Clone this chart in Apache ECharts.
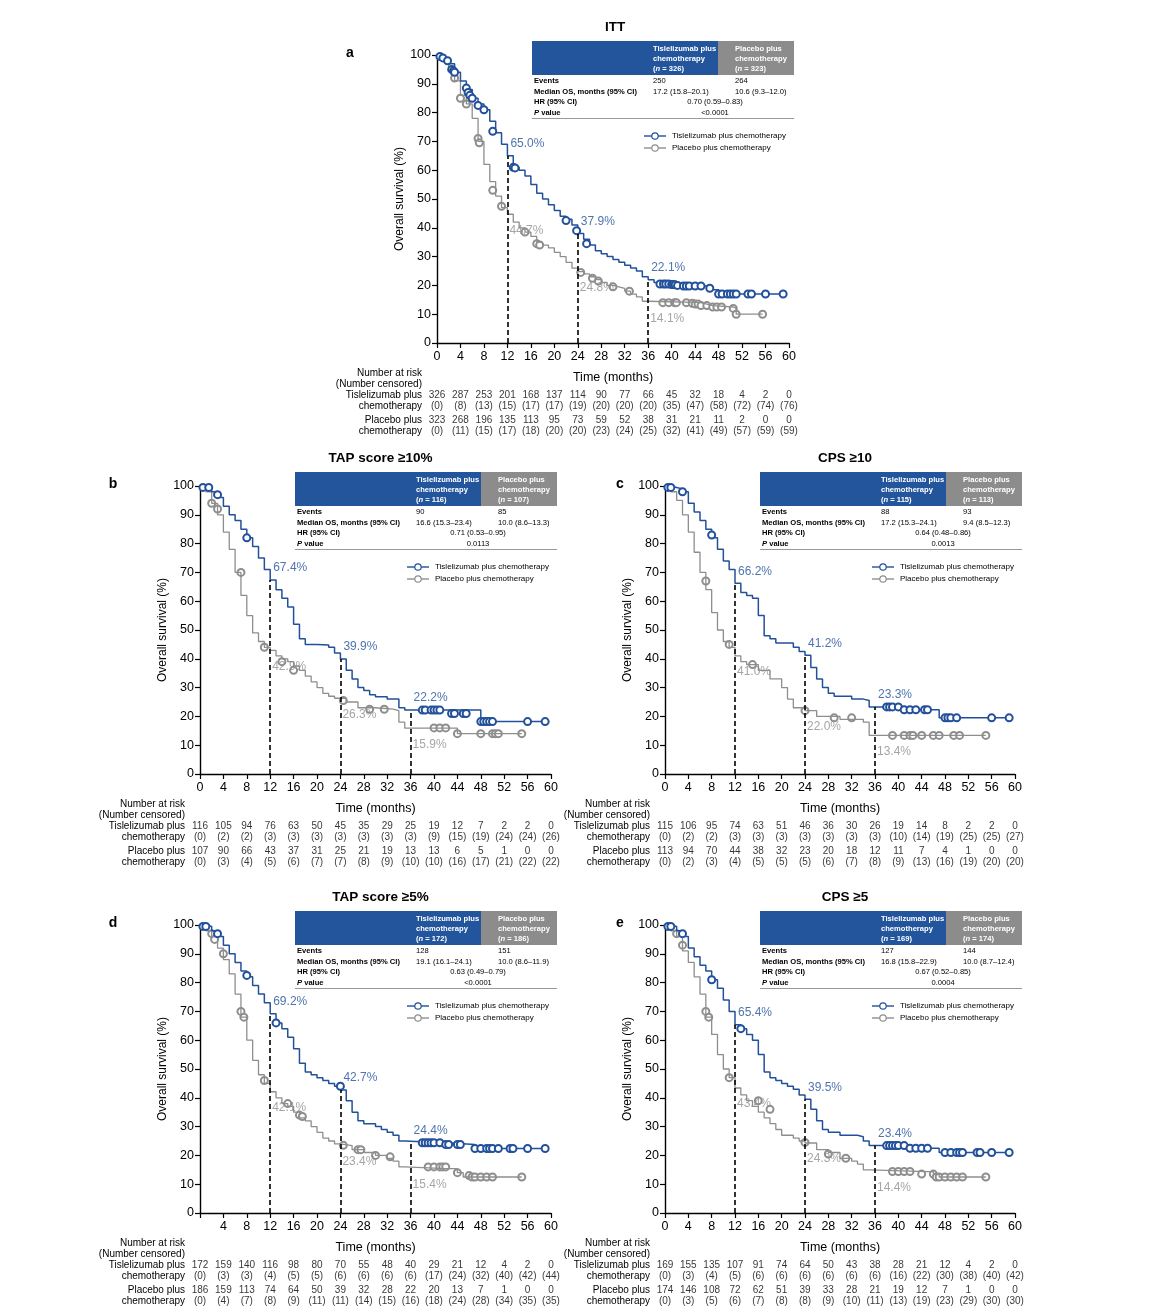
<!DOCTYPE html>
<html>
<head>
<meta charset="utf-8">
<script src="https://cdn.jsdelivr.net/npm/echarts@6/dist/echarts.min.js"></script>
<style>html,body{margin:0;padding:0;background:#fff}#main{width:1156px;height:1316px}</style>
</head>
<body>
<div id="main"></div>
<script>
var BLUE = '#22509a', GREY = '#8e8e8e', HEAD_BLUE = '#23559d', HEAD_GREY = '#8c8c8c';
var FONT = 'Liberation Sans, Arial, sans-serif';

var timeTicks = [0, 4, 8, 12, 16, 20, 24, 28, 32, 36, 40, 44, 48, 52, 56, 60];
var landmarkTimes = [12, 24, 36];

// ---- a: ITT ----
var ittBlue = [[0,100],[1,99],[2,97],[3,94],[4,91],[5,88],[6,85],[7,83],[8,81],[9,77],[10,73],[11,69],[12,65],[13,61],[14,60],[15,58],[16,55],[17,52],[18,50],[19,48],[20,46],[21,44],[22,43],[23,41],[24,38],[25,36],[26,34],[27,32],[28,31],[29,30],[30,29],[31,28],[32,27],[33,26],[34,25],[35,23],[36,22],[37,21],[38,20.5],[40,20.2],[42,19.8],[46,19.5],[47,18.5],[48,17],[59,17]];
var ittBlueCens = [[0.5,99.5],[1,99],[1.8,98],[2.5,95],[2.8,94.5],[3,94],[5,88.5],[5.3,87],[5.6,86],[6,85],[7,82.5],[8,81],[9.5,73.5],[13,61],[13.3,60.8],[22,42.5],[23.8,39],[25.5,34.5],[38,20.5],[38.6,20.5],[39,20.5],[39.5,20.5],[40,20.3],[40.3,20.3],[40.6,20.2],[41,20],[42,19.8],[42.5,19.8],[43,19.8],[44,19.8],[45,19.8],[46.5,19],[48,17],[48.6,17],[49.5,17],[50,17],[50.5,17],[51,17],[53,17],[53.6,17],[56,17],[59,17]];
var ittGrey = [[0,100],[1,98],[2,95],[3,91],[4,86],[5,83],[6,78],[7,70],[8,62],[9,56],[10,51],[11,47],[12,44.7],[13,42],[14,40],[15,38.5],[16,37],[17,35],[18,34],[19,33],[20,31.5],[21,30],[22,28],[23,26],[24,24.8],[25,24],[26,23],[27,22],[28,21],[29,20],[30,19.5],[31,19],[32,18],[33,17],[34,16],[35,14.5],[36,14.1],[44,14],[45,13.5],[46,13],[47,12.5],[50.5,12],[51,10],[55.5,10]];
var ittGreyCens = [[3,92],[4,85],[5,83],[7,71],[7.2,69.5],[9.5,53],[11,47.5],[15,38.5],[17,34.5],[17.5,34],[24.5,24.5],[26.5,22.5],[27.5,21.5],[30,19.5],[32.8,18],[38.5,14],[39.5,14],[40.5,14],[40.8,14],[42.5,14],[43.5,13.8],[44,13.5],[44.5,13.5],[45,13],[46,13],[47,12.5],[47.7,12.5],[48.5,12.5],[50.5,12],[51,10],[55.5,10]];
var ittBlueLm = [65.0, 37.9, 22.1];
var ittGreyLm = [44.7, 24.8, 14.1];
var ittRiskBlue = [326,287,253,201,168,137,114,90,77,66,45,32,18,4,2,0];
var ittCensBlue = [0,8,13,15,17,17,19,20,20,20,35,47,58,72,74,76];
var ittRiskGrey = [323,268,196,135,113,95,73,59,52,38,31,21,11,2,0,0];
var ittCensGrey = [0,11,15,17,18,20,20,23,24,25,32,41,49,57,59,59];
var ittTable = ['326', '323', '250', '264', '17.2 (15.8–20.1)', '10.6 (9.3–12.0)', '0.70 (0.59–0.83)', '<0.0001'];

// ---- b: TAP score >=10% ----
var tap10Blue = [[0,100],[1,99.5],[2,98],[3,96],[4,93],[5,90],[6,88],[7,85],[8,82],[9,79],[10,75],[11,71],[12,67.4],[13,64],[14,61],[15,58],[16,52],[17,47],[18,45],[20,44.8],[22,44],[23,42],[24,39.9],[25,36],[26,33],[27,30],[28,29],[29,27.5],[30,26.8],[32,26],[34,23],[35,22.2],[47,22.2],[48,18.2],[59,18.2]];
var tap10BlueCens = [[0.5,99.5],[1.5,99.5],[3,97],[8,82],[38,22.2],[38.5,22.2],[39.5,22.2],[40,22.2],[40.5,22.2],[41,22.2],[43,21],[43.5,21],[45,21],[45.5,21],[48,18.2],[48.5,18.2],[49,18.2],[49.5,18.2],[50,18.2],[56,18.2],[59,18.2]];
var tap10Grey = [[0,100],[1,98],[2,94],[3,90],[4,84],[5,78],[6,70],[7,62],[8,55],[9,49],[10,46],[11,44],[12,42.9],[13,41],[14,40],[15,39],[16,37.5],[17,36],[18,34],[19,32],[20,30],[21,28],[22,27],[23,26.3],[25,25],[27,23],[30,22.5],[33,22],[34,18],[35,15.9],[43,15.9],[44,14],[55,14]];
var tap10GreyCens = [[2,94],[3,92],[7,70],[11,44],[14,39],[16,36],[24.5,25.5],[29,22.5],[31.5,22.5],[40,16],[41,16],[42,16],[44,14],[48,14],[50,14],[50.5,14],[51,14],[55,14]];
var tap10BlueLm = [67.4, 39.9, 22.2];
var tap10GreyLm = [42.9, 26.3, 15.9];
var tap10RiskBlue = [116,105,94,76,63,50,45,35,29,25,19,12,7,2,2,0];
var tap10CensBlue = [0,2,2,3,3,3,3,3,3,3,9,15,19,24,24,26];
var tap10RiskGrey = [107,90,66,43,37,31,25,21,19,13,13,6,5,1,0,0];
var tap10CensGrey = [0,3,4,5,6,7,7,8,9,10,10,16,17,21,22,22];
var tap10Table = ['116', '107', '90', '85', '16.6 (15.3–23.4)', '10.0 (8.6–13.3)', '0.71 (0.53–0.95)', '0.0113'];

// ---- c: CPS >=10 ----
var cps10Blue = [[0,100],[1,99.5],[2,99],[3,98],[4,94],[5,91],[6,88],[7,85],[8,82],[9,78],[10,74],[11,71],[12,66.2],[13,63],[14,62],[15,61],[16,55],[17,48],[18,47],[19,45.5],[21,45.5],[22,44],[23,42.5],[24,41.2],[25,37],[26,33],[27,30],[28,28],[29,27],[31,27],[32,26],[34,25.5],[35,23.3],[41,22.3],[47,19.5],[59,19.5]];
var cps10BlueCens = [[0.5,99.5],[1,99.5],[3,98],[8,83],[38,23.3],[38.5,23.3],[39,23.3],[40,23.3],[41,22.3],[42,22.3],[43,22.3],[44.5,22.3],[45,22.3],[48,19.5],[48.5,19.5],[49,19.5],[50,19.5],[56,19.5],[59,19.5]];
var cps10Grey = [[0,100],[1,98],[2,95],[3,90],[4,84],[5,77],[6,70],[7,64],[8,56],[9,50],[10,46],[11,44],[12,41],[13,39],[14,38],[16,36],[18,33],[20,30],[21,26],[22,23],[24,22],[26,20],[30,19],[34,18],[35,13.4],[55,13.4]];
var cps10GreyCens = [[7,67],[11,45],[15,38],[24,22],[29,19.5],[32,19.5],[39,13.4],[41,13.4],[42,13.4],[42.5,13.4],[44,13.4],[46,13.4],[47,13.4],[49.5,13.4],[50.5,13.4],[55,13.4]];
var cps10BlueLm = [66.2, 41.2, 23.3];
var cps10GreyLm = [41.0, 22.0, 13.4];
var cps10RiskBlue = [115,106,95,74,63,51,46,36,30,26,19,14,8,2,2,0];
var cps10CensBlue = [0,2,2,3,3,3,3,3,3,3,10,14,19,25,25,27];
var cps10RiskGrey = [113,94,70,44,38,32,23,20,18,12,11,7,4,1,0,0];
var cps10CensGrey = [0,2,3,4,5,5,5,6,7,8,9,13,16,19,20,20];
var cps10Table = ['115', '113', '88', '93', '17.2 (15.3–24.1)', '9.4 (8.5–12.3)', '0.64 (0.48–0.86)', '0.0013'];

// ---- d: TAP score >=5% ----
var tap5Blue = [[0,100],[1,99.5],[2,98],[3,96],[4,93],[5,90],[6,87],[7,84],[8,82],[9,79],[10,76],[11,73],[12,69.2],[13,66],[14,64],[15,61],[16,57],[17,52],[18,49],[19,48],[20,47],[21,46],[22,45],[23,44],[24,42.7],[25,39],[26,35],[27,32],[28,31],[30,30],[31,29],[32,28],[33,27],[34,25],[35,24.4],[42,23.8],[47,22.4],[59,22.4]];
var tap5BlueCens = [[0.5,99.5],[1,99.5],[3,97],[8,82.5],[13,66],[24,44],[38,24.4],[38.5,24.4],[39,24.4],[39.5,24.4],[40,24.4],[41,24.4],[42,23.8],[42.5,23.8],[44,23.8],[44.5,23.8],[47,22.4],[48,22.4],[49,22.4],[49.5,22.4],[50,22.4],[51,22.4],[53,22.4],[53.5,22.4],[56,22.4],[59,22.4]];
var tap5Grey = [[0,100],[1,98],[2,96],[3,92],[4,88],[5,83],[6,76],[7,68],[8,60],[9,53],[10,48],[11,45],[12,42.1],[13,40],[14,38],[15,37],[16,35],[17,33],[18,32],[19,30],[20,28],[21,26],[22,25],[23,24],[24,23.4],[26,22],[28,21],[30,20],[32,19],[33,18],[34,16],[35,15.4],[42,15.4],[44,14],[45,12.5],[55,12.5]];
var tap5GreyCens = [[2,97],[2.5,95],[4,90],[7,70],[7.5,68],[11,46],[15,38],[17,34],[17.5,33.5],[24.5,23.5],[27,22],[27.5,22],[30,20],[32.5,19.5],[39,16],[40,16],[41,16],[41.5,16],[42,16],[44,14],[46,13],[46.5,12.5],[47,12.5],[48,12.5],[49,12.5],[50,12.5],[55,12.5]];
var tap5BlueLm = [69.2, 42.7, 24.4];
var tap5GreyLm = [42.1, 23.4, 15.4];
var tap5RiskBlue = [172,159,140,116,98,80,70,55,48,40,29,21,12,4,2,0];
var tap5CensBlue = [0,3,3,4,5,5,6,6,6,6,17,24,32,40,42,44];
var tap5RiskGrey = [186,159,113,74,64,50,39,32,28,22,20,13,7,1,0,0];
var tap5CensGrey = [0,4,7,8,9,11,11,14,15,16,18,24,28,34,35,35];
var tap5Table = ['172', '186', '128', '151', '19.1 (16.1–24.1)', '10.0 (8.6–11.9)', '0.63 (0.49–0.79)', '<0.0001'];

// ---- e: CPS >=5 ----
var cps5Blue = [[0,100],[1,99.5],[2,98],[3,96],[4,92],[5,89],[6,86],[7,84],[8,81],[9,78],[10,74],[11,70],[12,65.4],[13,64],[14,62],[15,60],[16,55],[17,49],[18,47],[19,46],[20,45],[21,44],[22,43],[23,41],[24,39.5],[25,36],[26,32],[27,29],[28,28],[30,27],[33,26.5],[34,25],[35,23.4],[42,22.5],[47,21],[59,21]];
var cps5BlueCens = [[0.5,99.5],[1,99.5],[3,97],[8,81],[13,64],[38,23.4],[38.5,23.4],[39,23.4],[39.5,23.4],[40,23.4],[41,23.4],[42,22.5],[43,22.5],[44,22.5],[45,22.5],[48,21],[49,21],[50,21],[50.5,21],[51,21],[53.5,21],[54,21],[56,21],[59,21]];
var cps5Grey = [[0,100],[1,98],[2,96],[3,91],[4,87],[5,82],[6,76],[7,68],[8,62],[9,55],[10,50],[11,47],[12,43.4],[13,41],[14,39],[15,37],[16,35],[17,33],[18,31],[19,29],[20,27],[22,26],[23,25],[24,24.3],[26,22],[28,21],[30,19],[32,18],[33,17],[34,15],[35,14.4],[45,14.4],[46,13.5],[47,12.5],[55,12.5]];
var cps5GreyCens = [[2,97],[3,93],[7,70],[7.5,68],[11,47],[16,39],[18,36],[24,24.5],[28,20.5],[31,19],[39,14.4],[40,14.4],[41,14.4],[42,14.4],[44,13.5],[46,13.5],[46.5,12.5],[47,12.5],[48,12.5],[49,12.5],[50,12.5],[51,12.5],[55,12.5]];
var cps5BlueLm = [65.4, 39.5, 23.4];
var cps5GreyLm = [43.4, 24.3, 14.4];
var cps5RiskBlue = [169,155,135,107,91,74,64,50,43,38,28,21,12,4,2,0];
var cps5CensBlue = [0,3,4,5,6,6,6,6,6,6,16,22,30,38,40,42];
var cps5RiskGrey = [174,146,108,72,62,51,39,33,28,21,19,12,7,1,0,0];
var cps5CensGrey = [0,3,5,6,7,8,8,9,10,11,13,19,23,29,30,30];
var cps5Table = ['169', '174', '127', '144', '16.8 (15.8–22.9)', '10.0 (8.7–12.4)', '0.67 (0.52–0.85)', '0.0004'];

var panels = [
  {letter:'a', title:'ITT', left:437, top:55, w:352, h:288, blue:ittBlue, blueCens:ittBlueCens, grey:ittGrey, greyCens:ittGreyCens, blueLm:ittBlueLm, greyLm:ittGreyLm, rb:ittRiskBlue, cb:ittCensBlue, rg:ittRiskGrey, cg:ittCensGrey, table:ittTable, zero:true},
  {letter:'b', title:'TAP score ≥10%', left:200, top:486, w:351, h:288, blue:tap10Blue, blueCens:tap10BlueCens, grey:tap10Grey, greyCens:tap10GreyCens, blueLm:tap10BlueLm, greyLm:tap10GreyLm, rb:tap10RiskBlue, cb:tap10CensBlue, rg:tap10RiskGrey, cg:tap10CensGrey, table:tap10Table, zero:true},
  {letter:'c', title:'CPS ≥10', left:665, top:486, w:350, h:288, blue:cps10Blue, blueCens:cps10BlueCens, grey:cps10Grey, greyCens:cps10GreyCens, blueLm:cps10BlueLm, greyLm:cps10GreyLm, rb:cps10RiskBlue, cb:cps10CensBlue, rg:cps10RiskGrey, cg:cps10CensGrey, table:cps10Table, zero:true},
  {letter:'d', title:'TAP score ≥5%', left:200, top:925, w:351, h:288, blue:tap5Blue, blueCens:tap5BlueCens, grey:tap5Grey, greyCens:tap5GreyCens, blueLm:tap5BlueLm, greyLm:tap5GreyLm, rb:tap5RiskBlue, cb:tap5CensBlue, rg:tap5RiskGrey, cg:tap5CensGrey, table:tap5Table, zero:false},
  {letter:'e', title:'CPS ≥5', left:665, top:925, w:350, h:288, blue:cps5Blue, blueCens:cps5BlueCens, grey:cps5Grey, greyCens:cps5GreyCens, blueLm:cps5BlueLm, greyLm:cps5GreyLm, rb:cps5RiskBlue, cb:cps5CensBlue, rg:cps5RiskGrey, cg:cps5CensGrey, table:cps5Table, zero:true}
];

var grid = [], xAxis = [], yAxis = [], series = [], graphic = [];
var axisLine = {show:true, lineStyle:{color:'#000', width:1.4}};
var axisTick = {show:true, length:5, lineStyle:{color:'#000', width:1.2}};

panels.forEach(function (p, i) {
  var gi = grid.length;
  grid.push({left:p.left, top:p.top, width:p.w, height:p.h});
  xAxis.push({gridIndex:gi, type:'value', min:0, max:60, interval:4, axisLine:axisLine, axisTick:axisTick, splitLine:{show:false},
    axisLabel:{color:'#000', fontSize:12.5, fontFamily:FONT, margin:7, formatter:function (v) { return (v === 0 && !p.zero) ? '' : v; }},
    name:'Time (months)', nameLocation:'middle', nameGap:28, nameTextStyle:{color:'#000', fontSize:12.5, fontFamily:FONT}});
  yAxis.push({gridIndex:gi, type:'value', min:0, max:100, interval:10, axisLine:axisLine, axisTick:axisTick, splitLine:{show:false},
    axisLabel:{color:'#000', fontSize:12.5, fontFamily:FONT, margin:6},
    name:'Overall survival (%)', nameLocation:'middle', nameGap:31, nameTextStyle:{color:'#000', fontSize:12, fontFamily:FONT}});

  // dashed landmark lines from 0 up to the blue curve value
  var marks = landmarkTimes.map(function (t, k) { return [{coord:[t, 0]}, {coord:[t, p.blueLm[k]]}]; });
  series.push({type:'line', xAxisIndex:gi, yAxisIndex:gi, data:p.grey, step:'end', showSymbol:false, silent:true,
    lineStyle:{color:GREY, width:1.3}});
  series.push({type:'line', xAxisIndex:gi, yAxisIndex:gi, data:p.blue, step:'end', showSymbol:false, silent:true,
    lineStyle:{color:BLUE, width:1.5}, z:3,
    markLine:{symbol:'none', silent:true, label:{show:false}, lineStyle:{color:'#000', type:[5, 3], width:1.6}, data:marks}});
  series.push({type:'scatter', xAxisIndex:gi, yAxisIndex:gi, data:p.greyCens, symbol:'emptyCircle', symbolSize:7,
    itemStyle:{color:GREY, borderWidth:1.2, opacity:1}});
  series.push({type:'scatter', xAxisIndex:gi, yAxisIndex:gi, data:p.blueCens, symbol:'emptyCircle', symbolSize:7, z:4,
    itemStyle:{color:BLUE, borderWidth:1.2, opacity:1}});
  // landmark percentages
  series.push({type:'scatter', xAxisIndex:gi, yAxisIndex:gi, symbolSize:0, silent:true,
    data:landmarkTimes.map(function (t, k) { return [t, p.blueLm[k]]; }),
    label:{show:true, position:'right', offset:[-2, -12], color:BLUE, fontSize:12, fontFamily:FONT,
      formatter:function (d) { return d.value[1].toFixed(1) + '%'; }}});
  series.push({type:'scatter', xAxisIndex:gi, yAxisIndex:gi, symbolSize:0, silent:true,
    data:landmarkTimes.map(function (t, k) { return [t, p.greyLm[k]]; }),
    label:{show:true, position:'right', offset:[-3, 16], color:GREY, fontSize:12, fontFamily:FONT,
      backgroundColor:'rgba(255,255,255,0)',
      formatter:function (d) { return d.value[1].toFixed(1) + '%'; }}});

  // number-at-risk table in its own grid, aligned with the time axis
  var ri = grid.length;
  var bottom = p.top + p.h;
  grid.push({left:p.left, top:bottom + 52, width:p.w, height:36});
  xAxis.push({gridIndex:ri, type:'value', min:0, max:60, show:false});
  yAxis.push({gridIndex:ri, type:'value', min:0, max:36, inverse:true, show:false});
  var rows = [[p.rb, 0, false], [p.cb, 11, true], [p.rg, 25, false], [p.cg, 36, true]];
  var rdata = [];
  rows.forEach(function (r) {
    r[0].forEach(function (v, k) { rdata.push({value:[timeTicks[k], r[1]], txt:r[2] ? '(' + v + ')' : String(v)}); });
  });
  series.push({type:'scatter', xAxisIndex:ri, yAxisIndex:ri, symbolSize:0, silent:true, data:rdata,
    label:{show:true, position:'inside', color:'#000', fontSize:10, fontFamily:FONT,
      formatter:function (d) { return d.data.txt; }}});

  var lx = p.left - 15;
  [['Number at risk', 30], ['(Number censored)', 41], ['Tislelizumab plus', 52], ['chemotherapy', 63], ['Placebo plus', 77], ['chemotherapy', 88]].forEach(function (t) {
    graphic.push({type:'text', x:lx, y:bottom + t[1], style:{text:t[0], align:'right', verticalAlign:'middle', fill:'#000', font:'10px ' + FONT}});
  });

  // panel letter and title
  graphic.push({type:'text', x:(i === 0 ? 350 : (p.left < 400 ? 113 : 620)), y:p.top - 2, style:{text:p.letter, align:'center', verticalAlign:'middle', fill:'#000', font:'bold 14px ' + FONT}});
  graphic.push({type:'text', x:p.left + p.w / 2 + (i === 0 ? 2 : 5), y:p.top - 28, style:{text:p.title, align:'center', verticalAlign:'middle', fill:'#000', font:'bold 13.5px ' + FONT}});

  // summary table
  var tx = p.left + 95, ty = p.top - 14, T = p.table;
  var tf = 'bold 7.6px ' + FONT, nf = '7.6px ' + FONT;
  graphic.push({type:'rect', shape:{x:tx, y:ty, width:186, height:34}, style:{fill:HEAD_BLUE}});
  graphic.push({type:'rect', shape:{x:tx + 186, y:ty, width:76, height:34}, style:{fill:HEAD_GREY}});
  graphic.push({type:'text', x:tx + 121, y:ty + 3, style:{rich:{b:{font:tf, fill:'#fff', lineHeight:10}, i:{font:'italic bold 7.6px ' + FONT, fill:'#fff', lineHeight:10}},
    text:'{b|Tislelizumab plus}\n{b|chemotherapy}\n{b|(}{i|n}{b| = ' + T[0] + ')}'}});
  graphic.push({type:'text', x:tx + 203, y:ty + 3, style:{rich:{b:{font:tf, fill:'#fff', lineHeight:10}, i:{font:'italic bold 7.6px ' + FONT, fill:'#fff', lineHeight:10}},
    text:'{b|Placebo plus}\n{b|chemotherapy}\n{b|(}{i|n}{b| = ' + T[1] + ')}'}});
  var body = [['Events', 40], ['Median OS, months (95% CI)', 51], ['HR (95% CI)', 61]];
  body.forEach(function (b) {
    graphic.push({type:'text', x:tx + 2, y:ty + b[1], style:{text:b[0], verticalAlign:'middle', fill:'#000', font:tf}});
  });
  graphic.push({type:'text', x:tx + 2, y:ty + 72, style:{rich:{i:{font:'italic bold 7.6px ' + FONT, fill:'#000'}, b:{font:tf, fill:'#000'}}, text:'{i|P}{b| value}', verticalAlign:'middle'}});
  graphic.push({type:'text', x:tx + 121, y:ty + 40, style:{text:T[2], verticalAlign:'middle', fill:'#000', font:nf}});
  graphic.push({type:'text', x:tx + 203, y:ty + 40, style:{text:T[3], verticalAlign:'middle', fill:'#000', font:nf}});
  graphic.push({type:'text', x:tx + 121, y:ty + 51, style:{text:T[4], verticalAlign:'middle', fill:'#000', font:nf}});
  graphic.push({type:'text', x:tx + 203, y:ty + 51, style:{text:T[5], verticalAlign:'middle', fill:'#000', font:nf}});
  graphic.push({type:'text', x:tx + 183, y:ty + 61, style:{text:T[6], align:'center', verticalAlign:'middle', fill:'#000', font:nf}});
  graphic.push({type:'text', x:tx + 183, y:ty + 72, style:{text:T[7], align:'center', verticalAlign:'middle', fill:'#000', font:nf}});
  graphic.push({type:'line', shape:{x1:tx, y1:ty + 77.5, x2:tx + 262, y2:ty + 77.5}, style:{stroke:'#999', lineWidth:1}});

  // legend
  [[BLUE, 'Tislelizumab plus chemotherapy', 81], [GREY, 'Placebo plus chemotherapy', 93]].forEach(function (l) {
    var lx0 = p.left + 207, ly = p.top + l[2];
    graphic.push({type:'line', shape:{x1:lx0, y1:ly, x2:lx0 + 22, y2:ly}, style:{stroke:l[0], lineWidth:1.4}});
    graphic.push({type:'circle', shape:{cx:lx0 + 11, cy:ly, r:3.2}, style:{fill:'#fff', stroke:l[0], lineWidth:1.2}});
    graphic.push({type:'text', x:lx0 + 28, y:ly, style:{text:l[1], verticalAlign:'middle', fill:'#000', font:'8px ' + FONT}});
  });
});

var myChart = echarts.init(document.getElementById('main'), null, {renderer:'canvas'});
myChart.setOption({
  backgroundColor:'#fff',
  animation:false,
  grid:grid, xAxis:xAxis, yAxis:yAxis, series:series, graphic:graphic
});
</script>
</body>
</html>
